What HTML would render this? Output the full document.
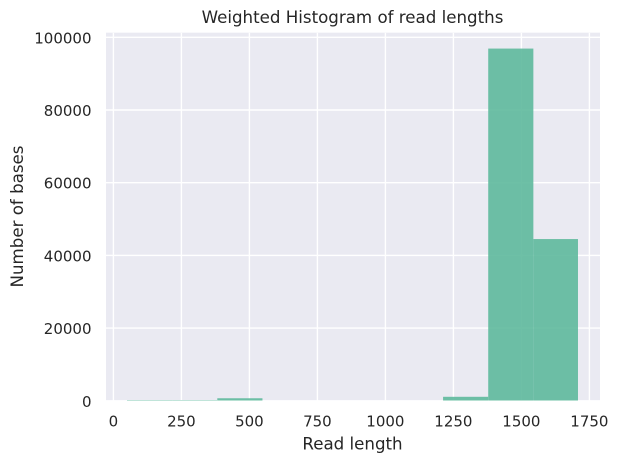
<!DOCTYPE html>
<html>
<head>
<meta charset="utf-8">
<style>
html,body{margin:0;padding:0;background:#fff;width:617px;height:463px;overflow:hidden}
svg{display:block}
text{font-family:"DejaVu Sans","Liberation Sans",sans-serif;fill:#262626}
</style>
</head>
<body>
<svg id="chart" width="617" height="463" viewBox="0 0 617 463" xmlns="http://www.w3.org/2000/svg">
<defs><clipPath id="plot-clip"><rect x="106" y="32.7" width="494" height="367.8"/></clipPath></defs>
<rect x="106" y="32.7" width="494" height="367.8" fill="#eaeaf2"/>
<g id="grid" clip-path="url(#plot-clip)"></g>
<g id="bars" clip-path="url(#plot-clip)"></g>
<g id="xticks"></g>
<g id="yticks"></g>
<text x="352.5" y="23" text-anchor="middle" font-size="16.67">Weighted Histogram of read lengths</text>
<text x="352.5" y="449.5" text-anchor="middle" font-size="16.67">Read length</text>
<text transform="translate(23,216.5) rotate(-90)" text-anchor="middle" font-size="16.67">Number of bases</text>
</svg>
<script>
const binEdges = [50, 216, 382, 548, 714, 880, 1046, 1212, 1378, 1544, 1708];
const binValues = [200, 200, 700, 0, 0, 0, 0, 1100, 96900, 44500];
const xTickValues = [0, 250, 500, 750, 1000, 1250, 1500, 1750];
const yTickValues = [0, 20000, 40000, 60000, 80000, 100000];

const NS = 'http://www.w3.org/2000/svg';
function xScale(v) { return 113.4 + v * 0.272; }
function yScale(v) { return 400.8 - v * 0.003635; }
function make(tag, attrs, parent) {
  const el = document.createElementNS(NS, tag);
  for (const k in attrs) el.setAttribute(k, attrs[k]);
  parent.appendChild(el);
  return el;
}
const grid = document.getElementById('grid');
const bars = document.getElementById('bars');
const xticks = document.getElementById('xticks');
const yticks = document.getElementById('yticks');

xTickValues.forEach(function (v) {
  const line = make('line', {x1: xScale(v), x2: xScale(v), y1: 32.7, y2: 400.8, stroke: '#fff', 'stroke-width': 1.39}, grid);
  
  
  const t = make('text', {x: xScale(v), y: 426.5, 'text-anchor': 'middle', 'font-size': 15}, xticks);
  
  
  t.textContent = String(v);
});
yTickValues.forEach(function (v) {
  const line = make('line', {x1: 106, x2: 600, y1: yScale(v), y2: yScale(v), stroke: '#fff', 'stroke-width': 1.39}, grid);
  
  
  const t = make('text', {x: 91.5, y: yScale(v) + 6, 'text-anchor': 'end', 'font-size': 15}, yticks);
  
  
  t.textContent = String(v);
});
binValues.forEach(function (v, i) {
  const x0 = xScale(binEdges[i]);
  const x1 = xScale(binEdges[i + 1]);
  const r = make('rect', {x: x0, y: yScale(v), width: x1 - x0, height: 400.8 - yScale(v), fill: '#5eb99c', 'fill-opacity': 0.9}, bars);
  
  
});
</script>
</body>
</html>
